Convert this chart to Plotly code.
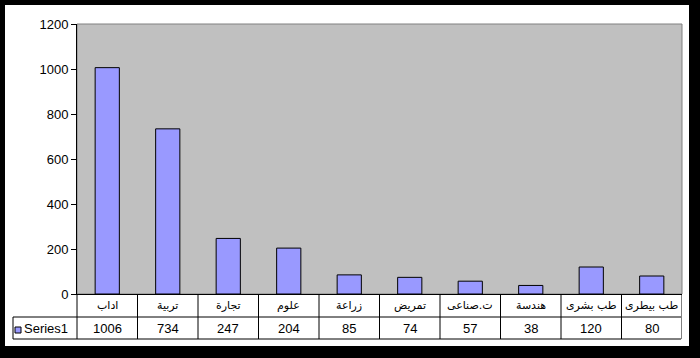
import plotly.graph_objects as go

categories = ["اداب", "تربية", "تجارة", "علوم", "زراعة", "تمريض", "ت.صناعى", "هندسة", "طب بشرى", "طب بيطرى"]
values = [1006, 734, 247, 204, 85, 74, 57, 38, 120, 80]
series_name = "Series1"
y_ticks = [0, 200, 400, 600, 800, 1000, 1200]

W, H = 700, 358
L, R, T, B = 77, 682, 24, 294
pw, ph = R - L, B - T

def px(x):
    return (x - L) / pw

def py(y):
    return (B - y) / ph

BAR = "#9999FF"
fig = go.Figure()
fig.add_trace(go.Bar(
    x=categories, y=values, name=series_name,
    marker=dict(color=BAR, line=dict(color="black", width=1)),
    width=0.4, hoverinfo="x+y",
))

shapes = []
# white chart area inside black frame
shapes.append(dict(type="rect", xref="paper", yref="paper", x0=px(5), x1=px(689), y0=py(346), y1=py(5),
                   fillcolor="white", line=dict(width=0), layer="below"))
# gray plot area
shapes.append(dict(type="rect", xref="paper", yref="paper", x0=0, x1=1, y0=0, y1=1,
                   fillcolor="#C0C0C0", line=dict(color="#808080", width=1), layer="below"))

line = dict(color="black", width=1)
# data table lines
shapes.append(dict(type="line", xref="paper", yref="paper", x0=px(13), x1=px(681), y0=py(317), y1=py(317), line=line))
shapes.append(dict(type="line", xref="paper", yref="paper", x0=px(13), x1=px(681), y0=py(339), y1=py(339), line=line))
shapes.append(dict(type="line", xref="paper", yref="paper", x0=px(13), x1=px(13), y0=py(317), y1=py(339), line=line))
shapes.append(dict(type="line", xref="paper", yref="paper", x0=0, x1=0, y0=0, y1=py(339), line=line))
n = len(categories)
for i in range(n):
    shapes.append(dict(type="line", xref="x", yref="paper", x0=i + 0.5, x1=i + 0.5, y0=0, y1=py(339), line=line))
# legend key
shapes.append(dict(type="rect", xref="paper", yref="paper", x0=px(15), x1=px(21), y0=py(333), y1=py(327),
                   fillcolor=BAR, line=dict(color="black", width=1)))

annotations = []
for c, v in zip(categories, values):
    annotations.append(dict(x=c, xref="x", y=py(305.5), yref="paper", text=c, showarrow=False,
                            font=dict(family="DejaVu Sans", size=11, color="black"),
                            xanchor="center", yanchor="middle"))
    annotations.append(dict(x=c, xref="x", y=py(328.5), yref="paper", text=str(v), showarrow=False,
                            font=dict(family="Arial, Liberation Sans", size=13, color="black"),
                            xanchor="center", yanchor="middle"))
annotations.append(dict(x=px(22), xref="paper", y=py(328.5), yref="paper", text=series_name, showarrow=False,
                        font=dict(family="Arial, Liberation Sans", size=13, color="black"),
                        xanchor="left", yanchor="middle"))

fig.update_layout(
    width=W, height=H,
    margin=dict(l=L, r=W - R, t=T, b=H - B, pad=0),
    paper_bgcolor="black",
    plot_bgcolor="rgba(0,0,0,0)",
    showlegend=False,
    bargap=0.6,
    shapes=shapes,
    annotations=annotations,
    xaxis=dict(showticklabels=False, ticks="", showgrid=False, zeroline=False,
               showline=True, linecolor="black", linewidth=1, range=[-0.5, n - 0.5]),
    yaxis=dict(range=[0, 1200], tickvals=y_ticks, ticks="outside", ticklen=5, tickcolor="black",
               showgrid=False, zeroline=False, showline=True, linecolor="black", linewidth=1,
               tickfont=dict(family="Arial, Liberation Sans", size=13, color="black")),
)

fig.write_html("out.html", config={"displayModeBar": False},
               post_script="document.body.style.margin='0';document.body.style.background='black';")
